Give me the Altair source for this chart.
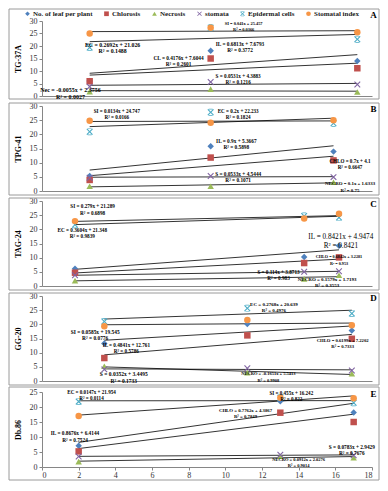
import altair as alt
import pandas as pd

FONT = "Liberation Serif"

SERIES = ["No. of leaf per plant", "Chlorosis", "Necrosis", "stomata",
          "Epidermal cells", "Stomatal index"]
COLORS = ["#4F81BD", "#C0504D", "#9BBB59", "#8064A2", "#4BACC6", "#F79646"]
X_PATH = ("M0.76,-1L1,-0.76L0.24,0L1,0.76L0.76,1L0,0.24L-0.76,1L-1,0.76"
          "L-0.24,0L-1,-0.76L-0.76,-1L0,-0.24Z")
STAR_PATH = (X_PATH + "M-0.6,-1.05L0.6,-1.05L0.6,-0.85L-0.6,-0.85Z"
             "M-0.6,0.85L0.6,0.85L0.6,1.05L-0.6,1.05Z")
SHAPES = ["diamond", "square", "triangle-up", X_PATH, STAR_PATH, "circle"]

PANEL_TITLES = ["TG-37A", "TPG-41", "TAG-24", "GG-20", "Db.86"]
PANEL_LETTERS = ["A", "B", "C", "D", "E"]
Y_MAX = [30, 30, 30, 30, 25]
X_TICKS = [0, 2, 4, 6, 8, 10, 12, 14, 16, 18]

# data per panel (A..E)
x_vals = [[2.6, 9.2, 17.2], [2.6, 9.2, 15.9], [1.8, 14.3, 16.2],
          [3.4, 11.2, 16.9], [2.0, 13.0, 17.0]]
leaf = [[6.0, 18.1, 14.0], [5.3, 15.8, 13.9], [6.1, 10.2, 14.2],
        [13.2, 20.1, 17.8], [7.1, 21.9, 18.2]]
chlorosis = [[5.9, 15.0, 11.1], [3.9, 11.8, 10.8], [4.7, 8.1, 10.1],
             [8.1, 16.1, 14.9], [5.2, 18.1, 15.0]]
necrosis = [[1.75, 2.75, 1.6], [1.7, 1.7, 3.1], [1.9, 2.5, 3.8],
            [5.2, 2.9, 2.6], [1.8, 3.6, 3.1]]
stomata = [[3.75, 5.6, 4.6], [4.7, 5.3, 4.9], [3.8, 5.0, 5.2],
           [4.1, 4.5, 3.7], [3.5, 4.1, 3.9]]
epidermal = [[19.4, 27.3, 22.7], [20.9, 27.8, 23.9], [21.6, 24.7, 24.2],
             [21.0, 25.7, 23.8], [21.8, 23.1, 21.4]]
stomatal_index = [[25.0, 27.3, 25.5], [24.8, 24.1, 25.0], [22.9, 23.8, 25.5],
                  [19.3, 21.5, 19.7], [17.0, 23.1, 22.9]]

eq_text = [
    ["SI = 0.041x + 25.457", "EC = 0.2692x + 21.026", "IL = 0.6813x + 7.6793",
     "CL = 0.4176x + 7.6044", "S = 0.0531x + 4.3883", "Nec = -0.0055x + 2.3756"],
    ["SI = 0.0134x + 24.747", "EC = 0.2x + 22.233", "IL = 0.9x + 5.3667",
     "CHLO = 0.7x + 4.1", "S = 0.0533x + 4.5444", "NECRO = 0.1x + 1.6333"],
    ["SI = 0.279x + 21.289", "EC = 0.3604x + 21.348", "IL = 0.8421x + 4.9474",
     "CHLO = 0.6842x + 3.2281", "S = 0.114x + 3.8713", "NECRO = 0.1579x + 1.7193"],
    ["EC = 0.2768x + 20.639", "SI = 0.0585x + 19.545", "IL = 0.4841x + 12.761",
     "CHLO = 0.6199x + 7.2202", "S = 0.0352x + 3.4495", "NECRO = -0.1651x + 5.5413"],
    ["EC = 0.0147x + 21.954", "SI = 0.455x + 16.242", "CHLO = 0.7762x + 4.3867",
     "IL = 0.8676x + 6.4144", "S = 0.0783x + 2.9429", "NECRO = 0.0912x + 2.0276"],
]
r2_text = [
    ["R² = 0.0366", "R² = 0.1488", "R² = 0.3772", "R² = 0.2601", "R² = 0.1216", "R² = 0.0027"],
    ["R² = 0.0166", "R² = 0.1824", "R² = 0.5898", "R² = 0.6647", "R² = 0.1071", "R² = 0.75"],
    ["R² = 0.6898", "R² = 0.9839", "R² = 0.8421", "R² = 0.953", "R² = 0.983", "R² = 0.3553"],
    ["R² = 0.4976", "R² = 0.0776", "R² = 0.5786", "R² = 0.7333", "R² = 0.1733", "R² = 0.9908"],
    ["R² = 0.0114", "R² = 0.822", "R² = 0.7849", "R² = 0.7524", "R² = 0.7676", "R² = 0.9014"],
]
# label anchor positions (data units)
eq_x = [[11.0, 3.85, 10.8, 7.45, 10.7, 1.55],
        [4.08, 10.7, 10.6, 16.8, 10.7, 16.8],
        [2.76, 2.2, 16.3, 16.2, 12.9, 15.55],
        [12.65, 2.9, 4.6, 16.4, 4.46, 12.35],
        [2.7, 13.6, 11.1, 1.8, 16.9, 14.0]]
eq_y = [[28.8, 20.5, 20.9, 15.25, 8.0, 2.3],
        [28.3, 28.3, 17.8, 10.6, 6.1, 2.4],
        [28.1, 19.7, 17.3, 10.1, 4.95, 2.5],
        [27.2, 17.4, 12.75, 14.2, 2.4, 2.4],
        [25.0, 24.8, 18.8, 11.2, 6.7, 2.5]]
# label styles
eq_size = [[4.4, 5.8, 5.3, 5.3, 5.2, 6.0],
           [5.1, 5.1, 5.3, 5.1, 5.3, 4.9],
           [5.2, 5.2, 7.2, 4.2, 5.2, 5.0],
           [5.0, 5.4, 5.2, 4.7, 5.5, 4.5],
           [5.1, 5.1, 4.8, 5.3, 5.3, 4.5]]
eq_bold = [[True] * 6, [True] * 6, [True, True, False, True, True, True],
           [True] * 6, [True] * 6]

W = 330
L_PAD = 33
R_PAD = 7
panel_h = [75, 85, 85, 85, 75]
pad_top = [12, 3, 3, 3, 5]
pad_bottom = [3, 4, 4, 4, 13]
letter_y = [-6, 3, 2.5, 2, 1.5]

series_vals = [leaf, chlorosis, necrosis, stomata, epidermal, stomatal_index]


def make_panel(i):
    rows = []
    for s, vals in zip(SERIES, series_vals):
        for xv, yv in zip(x_vals[i], vals[i]):
            rows.append({"series": s, "x": xv, "y": yv})
    df = pd.DataFrame(rows)
    H = panel_h[i]
    ymax = Y_MAX[i]
    if i == 4:
        xaxis = alt.Axis(values=X_TICKS, title=None, grid=False, labelFont=FONT,
                         labelFontSize=8, labelColor="#333", tickSize=3,
                         tickColor="#868686", domainColor="#868686", labelPadding=1)
    else:
        xaxis = alt.Axis(values=X_TICKS, title=None, grid=False, labels=False,
                         ticks=False, domainColor="#868686")
    x_enc = alt.X("x:Q", scale=alt.Scale(domain=[0, 18], nice=False, zero=False),
                  axis=xaxis)
    y_enc = alt.Y("y:Q", scale=alt.Scale(domain=[0, ymax], nice=False),
                  axis=alt.Axis(values=list(range(0, ymax + 1, 5)),
                                title=PANEL_TITLES[i], titleFont=FONT,
                                titleFontWeight="bold", titleFontSize=8,
                                titlePadding=7, labelFont=FONT, labelFontSize=8,
                                labelColor="#333", tickSize=3, tickColor="#868686",
                                domainColor="#868686", grid=False, labelPadding=2))

    if i == 0:
        legend = alt.Legend(orient="none", legendX=-18, legendY=-11,
                            direction="horizontal", title=None, labelFont=FONT,
                            labelFontWeight="bold", labelFontSize=7,
                            labelColor="#222", symbolSize=22, columnPadding=10,
                            labelOffset=2, symbolStrokeWidth=0)
    else:
        legend = None

    border = alt.Chart(pd.DataFrame({"k": [0]})).mark_rect(
        fillOpacity=0, stroke="#9a9a9a", strokeWidth=1
    ).encode(x=alt.value(-L_PAD), x2=alt.value(W + R_PAD),
             y=alt.value(-pad_top[i]), y2=alt.value(H + pad_bottom[i]))

    base = alt.Chart(df)
    trend = base.transform_regression("x", "y", groupby=["series"]).mark_line(
        color="black", strokeWidth=0.8
    ).encode(x=x_enc, y=y_enc, detail="series:N")
    points = base.mark_point(filled=True, size=42, opacity=1, strokeWidth=0).encode(
        x=x_enc, y=y_enc,
        color=alt.Color("series:N", scale=alt.Scale(domain=SERIES, range=COLORS),
                        legend=legend),
        shape=alt.Shape("series:N", scale=alt.Scale(domain=SERIES, range=SHAPES),
                        legend=legend),
    )

    ann = pd.DataFrame({"x": eq_x[i], "y": eq_y[i], "eq": eq_text[i],
                        "r2": r2_text[i], "fs": eq_size[i], "b": eq_bold[i]})
    tb = alt.Chart(ann)
    bold_eq = tb.transform_filter("datum.b").mark_text(
        font=FONT, fontWeight="bold", color="black", baseline="middle"
    ).encode(x=x_enc, y=y_enc, text="eq:N", size=alt.Size("fs:Q", scale=None))
    bold_r2 = tb.transform_filter("datum.b").mark_text(
        font=FONT, fontWeight="bold", color="black", baseline="middle", dy=6.3
    ).encode(x=x_enc, y=y_enc, text="r2:N", size=alt.Size("fs:Q", scale=None))
    norm_eq = tb.transform_filter("!datum.b").mark_text(
        font=FONT, fontWeight="normal", color="black", baseline="middle"
    ).encode(x=x_enc, y=y_enc, text="eq:N", size=alt.Size("fs:Q", scale=None))
    norm_r2 = tb.transform_filter("!datum.b").mark_text(
        font=FONT, fontWeight="normal", color="black", baseline="middle", dy=9
    ).encode(x=x_enc, y=y_enc, text="r2:N", size=alt.Size("fs:Q", scale=None))

    letter = alt.Chart(pd.DataFrame({"t": [PANEL_LETTERS[i]]})).mark_text(
        font=FONT, fontWeight="bold", fontSize=9, align="center", baseline="middle",
        color="black"
    ).encode(text="t:N", x=alt.value(W + 1.5), y=alt.value(letter_y[i]))

    return alt.layer(border, trend, points, bold_eq, bold_r2, norm_eq, norm_r2,
                     letter).properties(width=W, height=H)


panels = [make_panel(i) for i in range(5)]
chart = alt.vconcat(*panels, spacing=0).resolve_scale(
    x="independent", y="independent", color="independent", shape="independent"
).properties(padding=0).configure(font=FONT).configure_view(stroke="transparent")

chart.save("out.html", embed_options={"renderer": "svg", "actions": False})
